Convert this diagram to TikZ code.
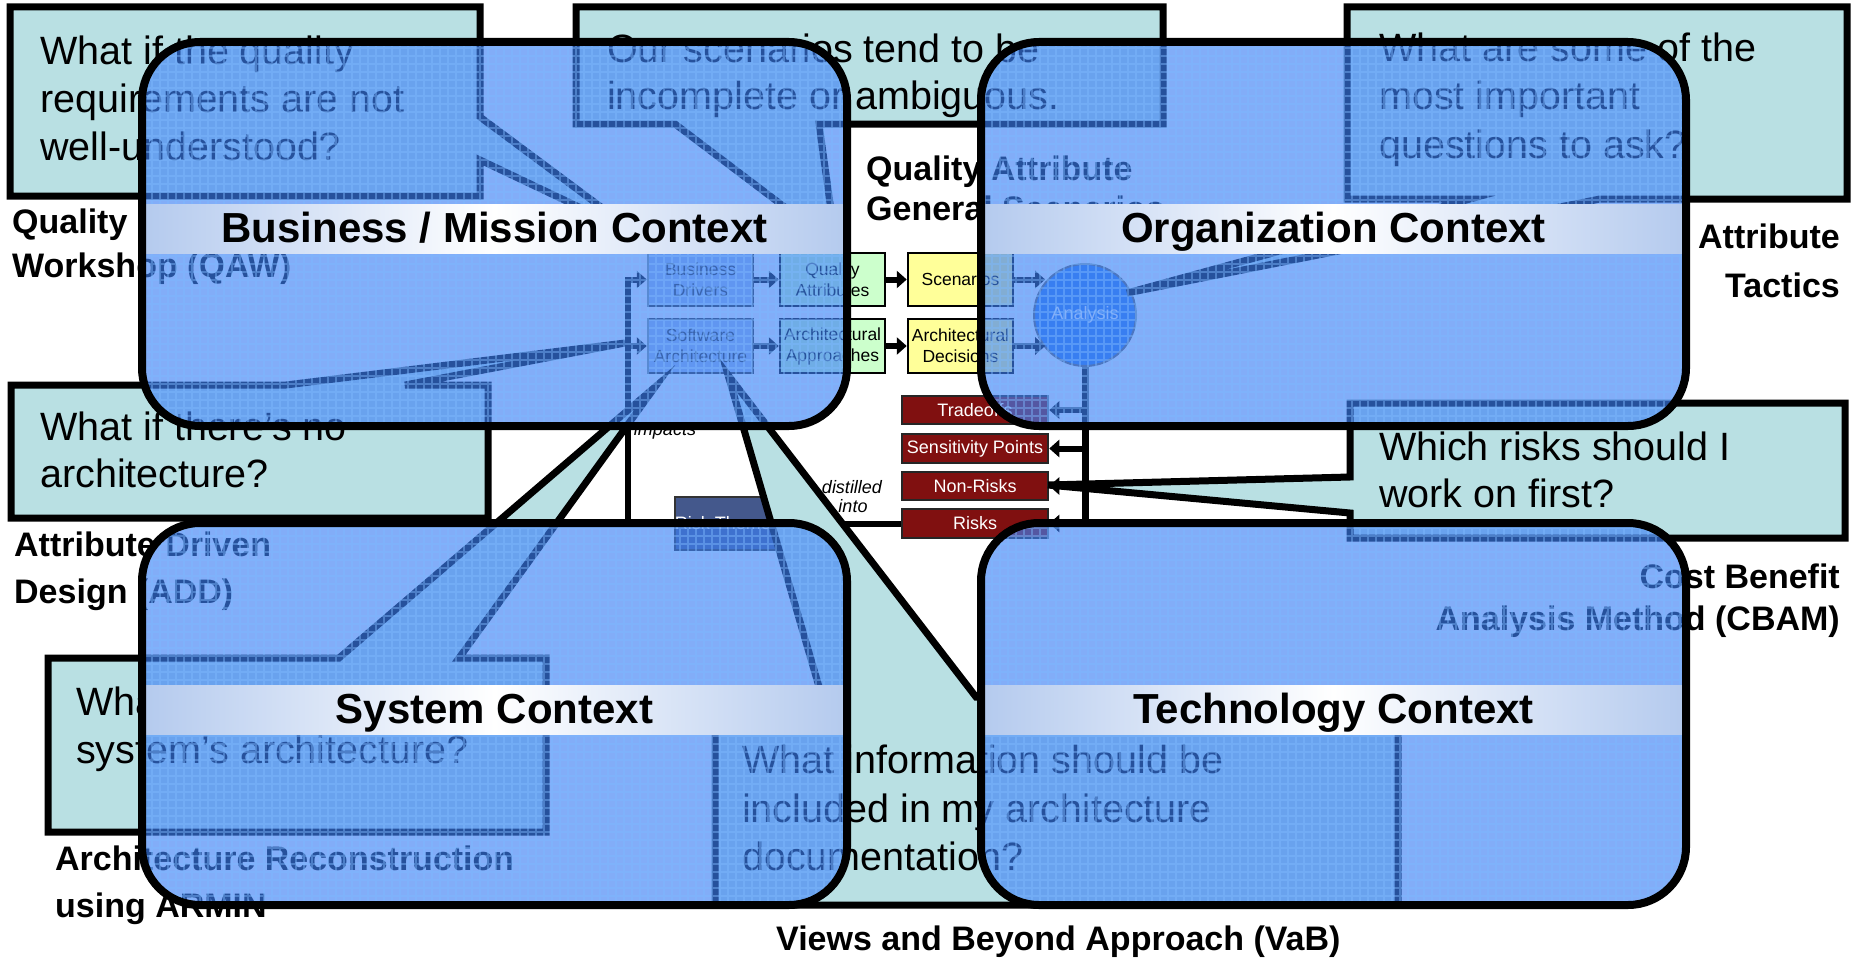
\documentclass[tikz,border=0pt]{standalone}
\usepackage{fontspec}
\setmainfont{Liberation Sans}
\usetikzlibrary{arrows.meta,calc}

\definecolor{calloutfill}{RGB}{185,224,227}
\definecolor{overlayblue}{RGB}{60,128,245}
\definecolor{gridblue}{RGB}{125,185,255}
\definecolor{bandblue}{RGB}{180,202,238}
\definecolor{qagreen}{RGB}{204,255,204}
\definecolor{scyellow}{RGB}{255,255,153}
\definecolor{riskred}{RGB}{128,16,16}
\definecolor{drivers}{RGB}{160,190,235}
\definecolor{analysisblue}{RGB}{50,125,235}
\definecolor{themes}{RGB}{68,88,140}

% translucent context panel with a title band
\newcommand{\contextpanel}[6]{%
  \fill[panelfill, rounded corners=58pt] (#1,#2) rectangle (#3,#4);
  \begin{scope}
    \clip[rounded corners=58pt] (#1,#2) rectangle (#3,#4);
    \draw[panelgrid] (0pt,-960pt) grid (1860pt,0pt);
  \end{scope}
  \shade[left color=bandblue, right color=bandblue, middle color=white]
    (#1,#2+162) rectangle (#3,#2+211);
  \draw[panelrim, rounded corners=58pt] (#1,#2) rectangle (#3,#4);
  \node[paneltitle] (#6) at ({(#1+#3)/2},#2+200) {#5};
}

\begin{document}
\begin{tikzpicture}[x=1pt,y=-1pt,
  callout/.style={draw=black, line width=7pt, fill=calloutfill, line join=miter},
  qtext/.style={anchor=base west, inner sep=0pt, font=\fontsize{39.5}{47}\selectfont},
  lbl/.style={inner sep=0pt, font=\fontsize{34}{40}\selectfont\bfseries},
  flowbox/.style={draw=black, line width=2.5pt, minimum width=105pt, minimum height=53pt,
    inner sep=0pt, align=center, font=\fontsize{17.5}{21}\selectfont},
  riskbox/.style={draw=black!85, line width=2.5pt, fill=riskred, text=white,
    minimum width=146pt, minimum height=28pt, inner sep=0pt, font=\fontsize{18}{21}\selectfont},
  flowarrow/.style={line width=6pt, -{Triangle[length=10pt,width=17pt]}},
  heavyline/.style={line width=7pt},
  note/.style={inner sep=0pt, anchor=base, font=\fontsize{18}{21}\selectfont\itshape},
  panelfill/.style={fill=overlayblue, fill opacity=0.64},
  panelgrid/.style={draw=gridblue, line width=1.2pt, opacity=0.45, step=8pt},
  panelrim/.style={draw=black, line width=8pt},
  paneltitle/.style={inner sep=0pt, anchor=base, font=\fontsize{42}{50}\selectfont\bfseries}
]
\useasboundingbox (0,0) rectangle (1853,958);
\fill[white] (0,0) rectangle (1853,958);

% ---------- method labels ----------
\node[lbl, anchor=base west] (qaw1) at (12,233) {Quality};
\node[lbl, anchor=base west] (qaw2) at (12,277) {Workshop (QAW)};
\node[lbl, anchor=base west] (gs1) at (866,180) {Quality Attribute};
\node[lbl, anchor=base west] (gs2) at (866,220) {General Scenarios};
\node[lbl, anchor=base east] (tac1) at (1840,248) {Attribute};
\node[lbl, anchor=base east] (tac2) at (1840,297) {Tactics};
\node[lbl, anchor=base west] (add1) at (14,556) {Attribute Driven};
\node[lbl, anchor=base west] (add2) at (14,603) {Design (ADD)};
\node[lbl, anchor=base west] (arm1) at (55,870) {Architecture Reconstruction};
\node[lbl, anchor=base west] (arm2) at (55,917) {using ARMIN};
\node[lbl, anchor=base west] (vab) at (776,950) {Views and Beyond Approach (VaB)};
\node[lbl, anchor=base east] (cb1) at (1840,588) {Cost Benefit};
\node[lbl, anchor=base east] (cb2) at (1840,630) {Analysis Method (CBAM)};

% ---------- ATAM flow ----------
\node[flowbox, fill=drivers, draw=black!80, text=black!80] (bd) at (700.5,279.5) {Business\\Drivers};
\node[flowbox, fill=drivers, draw=black!80, text=black!80, minimum height=54pt] (sa) at (700.5,346) {Software\\Architecture};
\node[flowbox, fill=qagreen] (qa) at (832.5,279.5) {Quality\\Attributes};
\node[flowbox, fill=qagreen, minimum height=54pt] (aa) at (832.5,346) {Architectural\\Approaches};
\node[flowbox, fill=scyellow] (sc) at (960.5,279.5) {Scenarios};
\node[flowbox, fill=scyellow, minimum height=54pt] (ad) at (960.5,346) {Architectural\\Decisions};
\node[circle, fill=analysisblue, draw=black!60, line width=2pt, minimum size=102pt, inner sep=0pt,
  text=white, font=\fontsize{18}{21}\selectfont] (analysis) at (1085,315) {Analysis};
\node[riskbox] (tradeoffs) at (975,410) {Tradeoffs};
\node[riskbox, minimum height=29pt] (sens) at (975,448.5) {Sensitivity Points};
\node[riskbox] (nonrisks) at (975,486) {Non-Risks};
\node[riskbox, minimum height=29pt] (risks) at (975,523.5) {Risks};
\node[fill=themes, draw=black!80, line width=2pt, minimum width=93pt, minimum height=53pt,
  inner sep=0pt, text=white, font=\fontsize{18}{21}\selectfont] (themes) at (727.5,523.5) {Risk Themes};

\draw[flowarrow] (bd.east) -- (qa.west);
\draw[flowarrow] (sa.east) -- (aa.west);
\draw[flowarrow] (qa.east) -- (sc.west);
\draw[flowarrow] (aa.east) -- (ad.west);
\draw[flowarrow] (sc.east) -- (sc.east -| analysis.140);
\draw[flowarrow] (ad.east) -- (ad.east -| analysis.220);

\coordinate (spinebot) at (analysis.south |- risks.east);
\draw[heavyline] (analysis.south) -- (spinebot);
\foreach \b in {tradeoffs,sens,nonrisks,risks}
  \draw[flowarrow] (analysis.south |- \b.east) -- (\b.east);

\coordinate (impx) at (628,0);
\draw[flowarrow, line join=miter] (themes.west) -- (impx |- themes.west) -- (impx |- bd.west) -- (bd.west);
\draw[flowarrow] (impx |- sa.west) -- (sa.west);
\draw[flowarrow] (risks.west) -- (themes.east);

\node[note] (impacts) at (665,435) {impacts};
\node[note] (distilled) at (852,493) {distilled};
\node[note] (into) at (853,512) {into};

% ---------- question callouts ----------
\draw[callout] (10,7) -- (480,7) -- (480,117) -- (640,236) -- (480,160) -- (480,196) -- (10,196) -- cycle;
\node[qtext] (qa1) at (40,65) {What if the quality};
\node[qtext] (qa2) at (40,113) {requirements are not};
\node[qtext] (qa3) at (40,160) {well-understood?};

\draw[callout] (576,7) -- (1163,7) -- (1163,124) -- (819,124) -- (836,246) -- (675,124) -- (576,124) -- cycle;
\node[qtext] (qb1) at (607,63) {Our scenarios tend to be};
\node[qtext] (qb2) at (607,110) {incomplete or ambiguous.};

\draw[callout] (1347,7) -- (1847,7) -- (1847,199) -- (1600,199) -- (1127,293) -- (1470,199) -- (1347,199) -- cycle;
\node[qtext] (qc1) at (1379,62) {What are some of the};
\node[qtext] (qc2) at (1379,110) {most important};
\node[qtext] (qc3) at (1379,158) {questions to ask?};

\draw[callout] (11,385) -- (286,385) -- (625,343) -- (405,385) -- (488,385) -- (488,518) -- (11,518) -- cycle;
\node[qtext] (qd1) at (40,440) {What if there’s no};
\node[qtext] (qd2) at (40,487) {architecture?};

\draw[callout] (48,658) -- (339,658) -- (655,387) -- (459,658) -- (546,658) -- (546,832) -- (48,832) -- cycle;
\node[qtext] (qe1) at (76,715) {What is my};
\node[qtext] (qe2) at (76,763) {system’s architecture?};

\draw[callout] (715,697) -- (822,697) -- (728,375) -- (976,697) -- (1398,697) -- (1398,905) -- (715,905) -- cycle;
\node[qtext] (qf1) at (742,773) {What information should be};
\node[qtext] (qf2) at (742,822) {included in my architecture};
\node[qtext] (qf3) at (742,870) {documentation?};

\draw[callout] (1350,403) -- (1845,403) -- (1845,538) -- (1350,538) -- (1350,513) -- (1048,485) -- (1350,477) -- cycle;
\node[qtext] (qg1) at (1379,460) {Which risks should I};
\node[qtext] (qg2) at (1379,507) {work on first?};

% ---------- context panels ----------
\contextpanel{142}{42}{847}{426}{Business / Mission Context}{busctx}
\contextpanel{981}{42}{1686}{426}{Organization Context}{orgctx}
\contextpanel{142}{523}{847}{905}{System Context}{sysctx}
\contextpanel{981}{523}{1686}{905}{Technology Context}{techctx}
\end{tikzpicture}
\end{document}
